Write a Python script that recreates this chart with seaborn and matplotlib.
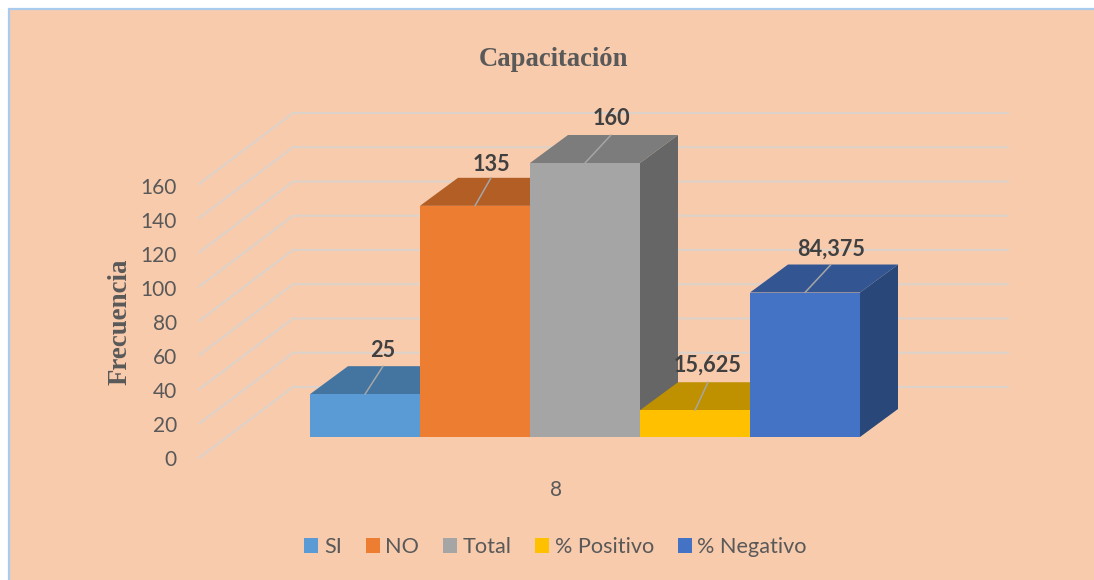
import matplotlib
matplotlib.use("Agg")
import matplotlib.pyplot as plt
import matplotlib.patches as mpatches
from matplotlib.transforms import ScaledTranslation
from matplotlib.colors import to_rgb
import pandas as pd
import seaborn as sns

# data
series = ["SI", "NO", "Total", "% Positivo", "% Negativo"]
values = [25, 135, 160, 15.625, 84.375]
category = "8"
y_ticks = [0, 20, 40, 60, 80, 100, 120, 140, 160]
colors = ["#5B9BD5", "#ED7D31", "#A5A5A5", "#FFC000", "#4472C4"]

# label placement per bar, px (leader shift right, gap above the bar top)
label_shift = [18, 16, 26, 13, 26]
label_gap = [44, 41, 45, 45, 43]

W, H = 1094, 580
BG = "#F8CBAD"
GRID = "#DDD2C9"
TEXT = "#595959"
SANS = "Lato"
SERIF = "Liberation Serif"

# pixel layout of the pseudo 3D box
AX_L, AX_R, AX_TOP, AX_BOT = 199, 1008, 114, 437
BAR_L, BAR_R = 310, 860
DEPTH_X, DEPTH_Y = 38, 28
PX_PER_UNIT = 1.7125
WALL_X = 94
FRONT_DROP = 21
BACK_RISE = 50

df = pd.DataFrame({"group": category, "serie": series, "valor": values})

sns.set_theme(style="white")
fig = plt.figure(figsize=(W / 100, H / 100), dpi=100, facecolor="white")
fig.patches.append(mpatches.Rectangle(
    (8.5 / W, -0.01), 1.1, (H - 8.5) / H + 0.01, transform=fig.transFigure,
    facecolor=BG, edgecolor="#A9CCEE", linewidth=1.6, figure=fig, zorder=-1))

ax = fig.add_axes([AX_L / W, (H - AX_BOT) / H, (AX_R - AX_L) / W, (AX_BOT - AX_TOP) / H])
ax.patch.set_alpha(0)

sns.barplot(data=df, x="group", y="valor", hue="serie", hue_order=series,
            palette=colors, saturation=1, width=1, gap=0, linewidth=0, ax=ax)

px_x = BAR_R - BAR_L  # one category spans the five bars
ax.set_xlim(-0.5 + (AX_L - BAR_L) / px_x, -0.5 + (AX_R - BAR_L) / px_x)
ax.set_ylim(0, (AX_BOT - AX_TOP) / PX_PER_UNIT)
sns.despine(ax=ax, left=True, bottom=True)

dx = DEPTH_X / px_x
dy = DEPTH_Y / PX_PER_UNIT

# wall grid
x_front = ax.get_xlim()[0]
x_back = x_front + WALL_X / px_x
for v in y_ticks:
    y_front = v - FRONT_DROP / PX_PER_UNIT
    y_back = v + BACK_RISE / PX_PER_UNIT
    ax.plot([x_front, x_back, ax.get_xlim()[1]], [y_front, y_back, y_back],
            color=GRID, lw=1.5, clip_on=False, zorder=0.5,
            solid_joinstyle="miter")


def shade(color, k):
    return tuple(c * k for c in to_rgb(color))


# depth faces, drawn bar after bar so later bars cover earlier ones
for i, cont in enumerate(ax.containers):
    bar = cont[0]
    x0, w, h = bar.get_x(), bar.get_width(), bar.get_height()
    base_z = 2 + i * 3
    ax.add_patch(mpatches.Polygon(
        [(x0 + w, 0), (x0 + w + dx, dy), (x0 + w + dx, h + dy), (x0 + w, h)],
        facecolor=shade(colors[i], 0.62), edgecolor="none", zorder=base_z, clip_on=False))
    ax.add_patch(mpatches.Polygon(
        [(x0, h), (x0 + dx, h + dy), (x0 + w + dx, h + dy), (x0 + w, h)],
        facecolor=shade(colors[i], 0.75), edgecolor="none", zorder=base_z + 1, clip_on=False))
    bar.set_edgecolor("none")
    bar.set_zorder(base_z + 2)

    xc = x0 + w / 2
    x_lab = xc + label_shift[i] / px_x
    y_lab = h + label_gap[i] / PX_PER_UNIT
    ax.plot([xc, x_lab], [h, h + dy], color="#A6A6A6", lw=1.1, zorder=40, clip_on=False)
    ax.text(x_lab, y_lab, str(values[i]).replace(".", ","), ha="center", va="center",
            fontsize=15.6, fontweight="bold", color="#404040", family=SANS, zorder=41)

ax.set_yticks(y_ticks)
ax.set_yticklabels([str(v) for v in y_ticks], family=SANS, fontsize=15, color=TEXT)
ax.tick_params(axis="y", length=0, pad=16)
ax.tick_params(axis="x", length=0, pad=31)
ax.set_xticks([0])
ax.set_xticklabels([category], family=SANS, fontsize=15, color=TEXT)

# labels sit off the front edge of the wall, so shift them
for v, lab in zip(y_ticks, ax.get_yticklabels()):
    drop = FRONT_DROP - 0.5 + 2.7 * v / y_ticks[-1]
    lab.set_transform(lab.get_transform() + ScaledTranslation(0, -drop / 100, fig.dpi_scale_trans))
left = ScaledTranslation(-29 / 100, 0, fig.dpi_scale_trans)
for lab in ax.get_xticklabels():
    lab.set_transform(lab.get_transform() + left)

ax.set_xlabel("")
ax.set_ylabel("Frecuencia", family=SERIF, fontweight="bold", fontsize=19.4, color=TEXT)
ax.yaxis.set_label_coords((133 - AX_L) / (AX_R - AX_L), (AX_BOT - 322) / (AX_BOT - AX_TOP))

fig.text(553 / W, 1 - 59 / H, "Capacitación", family=SERIF, fontweight="bold",
         fontsize=19.2, color=TEXT, ha="center", va="center")

sns.move_legend(ax, "center", bbox_to_anchor=(555.5 / W, 1 - 547 / H),
                bbox_transform=fig.transFigure, ncol=5, title=None, frameon=False,
                handlelength=0.65, handleheight=0.65, handletextpad=0.25,
                columnspacing=1.1, borderpad=0,
                prop={"family": SANS, "size": 15.6}, labelcolor=TEXT)
for handle in ax.get_legend().get_patches():
    handle.set_edgecolor("none")

fig.savefig("out.png", dpi=100)
